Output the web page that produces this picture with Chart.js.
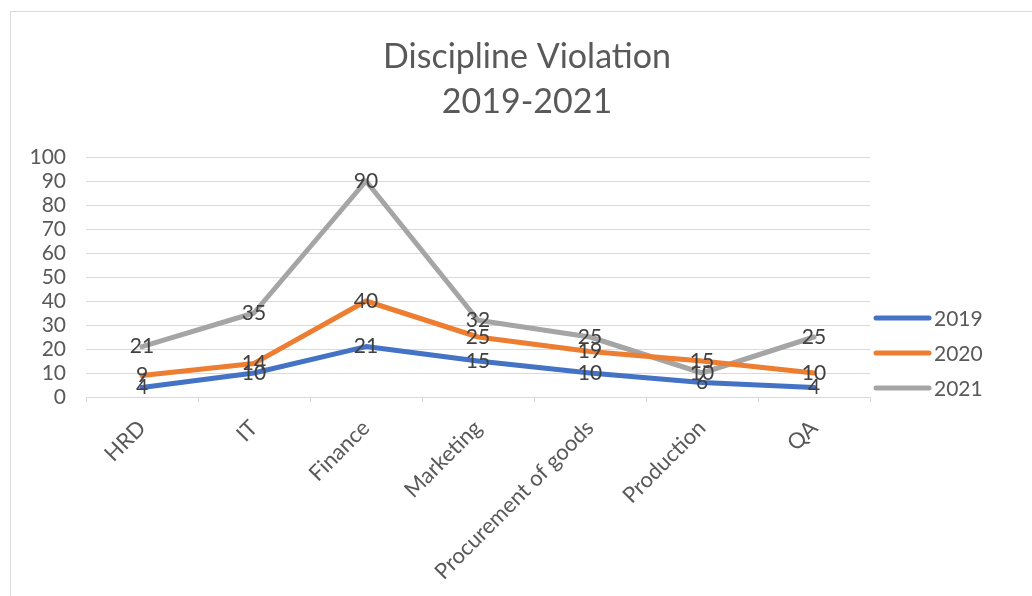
<!DOCTYPE html>
<html>
<head>
<meta charset="utf-8">
<script src="https://cdn.jsdelivr.net/npm/chart.js@4/dist/chart.umd.min.js"></script>
<style>
  html, body { margin: 0; padding: 0; background: #fff; }
  #wrap { width: 1032px; height: 596px; position: relative; }
</style>
</head>
<body>
<div id="wrap"><canvas id="chart"></canvas></div>
<script>
const categories = ['HRD', 'IT', 'Finance', 'Marketing', 'Procurement of goods', 'Production', 'QA'];
const years = ['2019', '2020', '2021'];
const values2019 = [4, 10, 21, 15, 10, 6, 4];
const values2020 = [9, 14, 40, 25, 19, 15, 10];
const values2021 = [21, 35, 90, 32, 25, 10, 25];
const colors = ['#4472C4', '#ED7D31', '#A5A5A5'];
const titleLines = ['Discipline Violation', '2019-2021'];

const FONT = 'Lato, "Open Sans", sans-serif';
const TEXT = '#595959';

// frame, title, data labels and legend are drawn by hand
const decor = {
  id: 'decor',
  beforeDraw(chart) {
    const ctx = chart.ctx;
    ctx.save();
    ctx.strokeStyle = '#d9d9d9';
    ctx.lineWidth = 1;
    ctx.strokeRect(10.5, 11.5, 1040, 600);
    ctx.restore();
  },
  afterDatasetsDraw(chart) {
    const ctx = chart.ctx;
    ctx.save();
    ctx.fillStyle = TEXT;
    ctx.textAlign = 'center';
    ctx.textBaseline = 'middle';
    ctx.font = '34px ' + FONT;
    ctx.fillText(titleLines[0], 527, 57);
    ctx.fillText(titleLines[1], 527, 102);

    ctx.font = '21px ' + FONT;
    ctx.fillStyle = '#404040';
    chart.data.datasets.forEach((ds, i) => {
      const meta = chart.getDatasetMeta(i);
      meta.data.forEach((pt, j) => {
        ctx.fillText(String(ds.data[j]), pt.x, pt.y);
      });
    });

    ctx.textAlign = 'left';
    ctx.fillStyle = TEXT;
    chart.data.datasets.forEach((ds, i) => {
      const y = 318 + i * 35;
      ctx.strokeStyle = ds.borderColor;
      ctx.lineWidth = 5;
      ctx.lineCap = 'round';
      ctx.beginPath();
      ctx.moveTo(876, y);
      ctx.lineTo(929, y);
      ctx.stroke();
      ctx.fillText(ds.label, 934, y + 1);
    });
    ctx.restore();
  }
};

new Chart(document.getElementById('chart'), {
  type: 'line',
  data: {
    labels: categories,
    datasets: [values2019, values2020, values2021].map((d, i) => ({
      label: years[i],
      data: d,
      borderColor: colors[i],
      backgroundColor: colors[i],
      borderWidth: 5,
      borderJoinStyle: 'round',
      borderCapStyle: 'round',
      pointRadius: 0,
      tension: 0,
      fill: false
    }))
  },
  options: {
    responsive: true,
    maintainAspectRatio: false,
    animation: false,
    layout: { padding: { left: 10, top: 157, right: 162, bottom: 0 } },
    plugins: {
      legend: { display: false },
      title: { display: false },
      tooltip: { enabled: false }
    },
    scales: {
      x: {
        offset: true,
        afterFit: (s) => { s.height = 199; },
        grid: { offset: true, drawOnChartArea: false, drawTicks: true, tickLength: 5, color: '#d9d9d9' },
        border: { color: '#d9d9d9', width: 1 },
        ticks: {
          minRotation: 45,
          maxRotation: 45,
          autoSkip: false,
          padding: 13,
          color: TEXT,
          font: { family: FONT, size: 22 }
        }
      },
      y: {
        min: 0,
        max: 100,
        afterFit: (s) => { s.width = 76; },
        grid: { color: '#d9d9d9', drawTicks: false },
        border: { display: false },
        ticks: {
          stepSize: 10,
          autoSkip: false,
          padding: 20,
          color: TEXT,
          font: { family: FONT, size: 21, lineHeight: 1 }
        }
      }
    }
  },
  plugins: [decor]
});
</script>
</body>
</html>
